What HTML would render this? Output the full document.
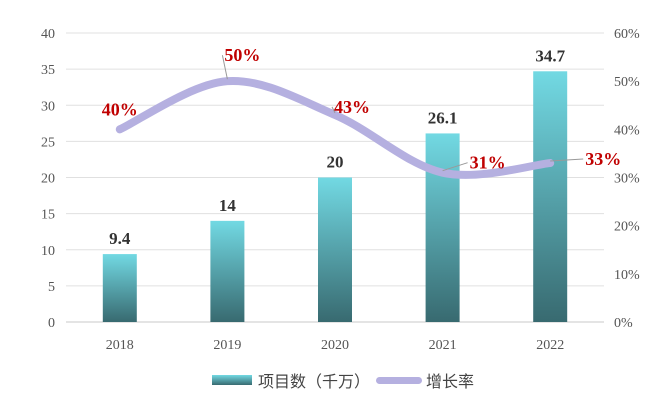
<!DOCTYPE html>
<html><head><meta charset="utf-8"><style>
body{margin:0;background:#fff;width:660px;height:400px;overflow:hidden;font-family:"Liberation Serif","Noto Serif CJK SC",serif}
</style></head><body>
<svg id="c" width="660" height="400" xmlns="http://www.w3.org/2000/svg">
<defs><linearGradient id="g" x1="0" y1="0" x2="0" y2="1"><stop offset="0" stop-color="#72d9e3"/><stop offset="1" stop-color="#386a70"/></linearGradient></defs>
</svg>
<script>
const categories=["2018","2019","2020","2021","2022"];
const values=[9.4,14,20,26.1,34.7];
const growth=[40,50,43,31,33];
const leftTicks=[0,5,10,15,20,25,30,35,40];
const rightTicks=[0,10,20,30,40,50,60];
const svg=document.getElementById('c');
const NS="http://www.w3.org/2000/svg";
const x0=66,x1=604,y0=322,y1=33;
const bw=(x1-x0)/categories.length;
const xc=i=>x0+bw*(i+0.5);
const yl=v=>y0-(v/40)*(y0-y1);
const yr=p=>y0-(p/60)*(y0-y1);
function mk(t,a,txt){const e=document.createElementNS(NS,t);for(const k in a)e.setAttribute(k,a[k]);if(txt!=null)e.textContent=txt;svg.appendChild(e);return e;}
leftTicks.forEach(v=>{
 const l=mk('line',{x1:x0,x2:x1,y1:yl(v),y2:yl(v),stroke:v===0?'#c8c8c8':'#e0e0e0','stroke-width':1});
 
 
 const t=mk('text',{x:55,y:yl(v)+5,'text-anchor':'end','font-size':14,fill:'#555'},String(v));
 
 
});
rightTicks.forEach(p=>{
 const t=mk('text',{x:614,y:yr(p)+5,'font-size':14,fill:'#555'},p+'%');
 
 
});
categories.forEach((c,i)=>{
 const b=mk('rect',{x:xc(i)-17,y:yl(values[i]),width:34,height:y0-yl(values[i]),fill:'url(#g)'});
 
 
 const v=mk('text',{x:xc(i),y:yl(values[i])-10,'text-anchor':'middle','font-size':17,'font-weight':'bold',fill:'#333'},String(values[i]));
 
 
 const t=mk('text',{x:xc(i),y:349,'text-anchor':'middle','font-size':14,fill:'#555'},c);
 
 
});
// smooth line (Catmull-Rom)
const pts=growth.map((g,i)=>[xc(i),yr(g)]);
let d='M'+pts[0][0]+','+pts[0][1];
for(let i=0;i<pts.length-1;i++){
 const p0=pts[Math.max(0,i-1)],p1=pts[i],p2=pts[i+1],p3=pts[Math.min(pts.length-1,i+2)];
 const k=1/6;
 d+=` C${p1[0]+(p2[0]-p0[0])*k},${p1[1]+(p2[1]-p0[1])*k} ${p2[0]-(p3[0]-p1[0])*k},${p2[1]-(p3[1]-p1[1])*k} ${p2[0]},${p2[1]}`;
}
const ln=mk('path',{d:d,fill:'none',stroke:'#b5b0e0','stroke-width':8,'stroke-linecap':'round'});


const off=[[0,-20],[15,-26],[17,-8],[45,-10],[53,-4]];
growth.forEach((g,i)=>{
 const [px,py]=pts[i];
 const lx=px+off[i][0],ly=py+off[i][1];
 if(Math.abs(off[i][0])>10){const l=mk('line',{x1:px,y1:py-2,x2:lx-20,y2:ly,stroke:'#999','stroke-width':1});
 
 }
 const t=mk('text',{x:lx,y:ly+6,'text-anchor':'middle','font-size':18,'font-weight':'bold',fill:'#c00000'},g+'%');
 
 
});
</script>
<div style="position:absolute;left:212px;top:369px;height:22px;display:flex;align-items:center;font-family:'Liberation Sans','Noto Sans CJK SC',sans-serif;font-size:16px;color:#444">
 <span style="display:inline-block;width:40px;height:10px;background:linear-gradient(#72d9e3,#386a70)"></span>
 <span style="margin-left:6px">项目数（千万）</span>
 <span style="display:inline-block;width:46px;height:7px;border-radius:4px;background:#b5b0e0;margin-left:6px"></span>
 <span style="margin-left:4px">增长率</span>
</div>
</body></html>
